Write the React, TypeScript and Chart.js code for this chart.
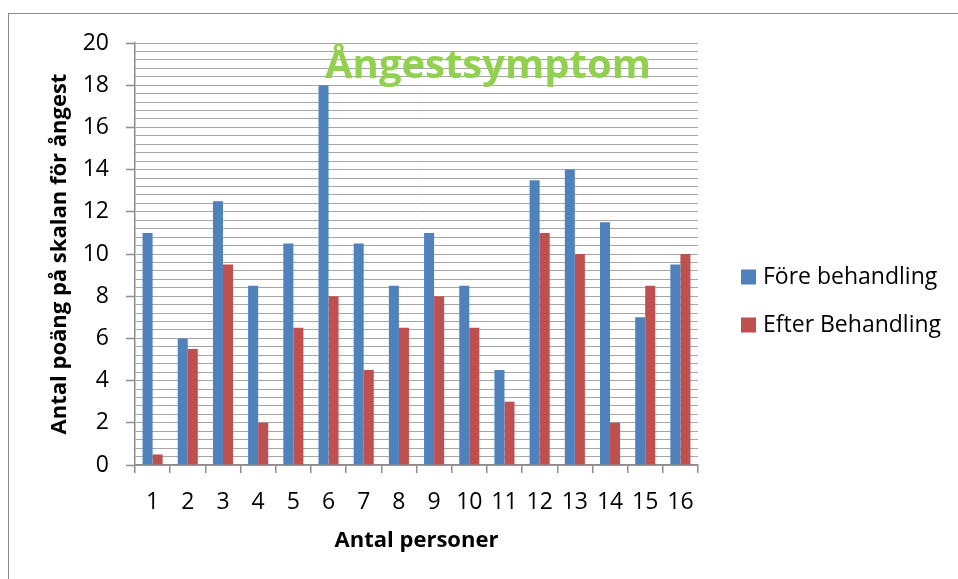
import React, { useEffect, useRef } from "react";
import { Chart, registerables } from "chart.js";

Chart.register(...registerables);

const categories = ["1", "2", "3", "4", "5", "6", "7", "8", "9", "10", "11", "12", "13", "14", "15", "16"];
const foreValues = [11, 6, 12.5, 8.5, 10.5, 18, 10.5, 8.5, 11, 8.5, 4.5, 13.5, 14, 11.5, 7, 9.5];
const efterValues = [0.5, 5.5, 9.5, 2, 6.5, 8, 4.5, 6.5, 8, 6.5, 3, 11, 10, 2, 8.5, 10];
const seriesNames = ["Före behandling", "Efter Behandling"];
const seriesColors = ["#4F81BD", "#C0504D"];
const chartTitle = "Ångestsymptom";
const xTitle = "Antal personer";
const yTitle = "Antal poäng på skalan för ångest";

const FONT = "'Open Sans', sans-serif";

const titlePlugin = {
  id: "insideTitle",
  afterDatasetsDraw(chart: any) {
    const { ctx, chartArea } = chart;
    ctx.save();
    ctx.font = `bold 40px ${FONT}`;
    ctx.fillStyle = "#92D050";
    ctx.textAlign = "center";
    ctx.textBaseline = "alphabetic";
    ctx.fillText(chartTitle, chartArea.left + 353, chartArea.top + 35);
    ctx.restore();
  },
};

const legendPlugin = {
  id: "sideLegend",
  afterDraw(chart: any) {
    const { ctx, chartArea } = chart;
    ctx.save();
    ctx.font = `23px ${FONT}`;
    ctx.textBaseline = "middle";
    ctx.textAlign = "left";
    chart.data.datasets.forEach((ds: any, i: number) => {
      const cy = 277 + i * 48;
      const x0 = chartArea.right + 43;
      ctx.fillStyle = ds.backgroundColor;
      ctx.fillRect(x0, cy - 7.5, 15, 15);
      ctx.fillStyle = "#000";
      ctx.fillText(ds.label, x0 + 22, cy);
    });
    ctx.restore();
  },
};

export default function App() {
  const ref = useRef<HTMLCanvasElement | null>(null);
  useEffect(() => {
    if (!ref.current) return;
    const chart = new Chart(ref.current, {
      type: "bar",
      data: {
        labels: categories,
        datasets: [
          { label: seriesNames[0], data: foreValues, backgroundColor: seriesColors[0] },
          { label: seriesNames[1], data: efterValues, backgroundColor: seriesColors[1] },
        ],
      },
      plugins: [titlePlugin, legendPlugin],
      options: {
        animation: false,
        responsive: true,
        maintainAspectRatio: false,
        datasets: {
          bar: { barPercentage: 1, categoryPercentage: 0.57 },
        },
        layout: { padding: { left: 47, top: 43, right: 260, bottom: 0 } },
        plugins: {
          legend: { display: false },
          tooltip: { enabled: false },
          title: { display: false },
        },
        scales: {
          x: {
            grid: {
              offset: true,
              drawOnChartArea: false,
              drawTicks: true,
              tickLength: 8,
              color: "#8C8C8C",
              lineWidth: 1.5,
            },
            border: { display: true, color: "#8C8C8C", width: 1.5 },
            ticks: { color: "#000", font: { family: FONT, size: 23 }, padding: 16, maxRotation: 0 },
            title: {
              display: true,
              text: xTitle,
              color: "#000",
              font: { family: FONT, size: 22, weight: "bold" },
              padding: { top: 0, bottom: 25 },
            },
            afterFit(scale: any) {
              scale.height = 114;
            },
          },
          y: {
            min: 0,
            max: 20,
            ticks: {
              stepSize: 0.4,
              autoSkip: false,
              color: "#000",
              font: { family: FONT, size: 23 },
              padding: 17,
              callback: (_v: any, i: number) => (i % 5 === 0 ? String((i / 5) * 2) : ""),
            },
            grid: {
              color: "#A6A6A6",
              lineWidth: 1,
              tickLength: 9,
              tickColor: (c: any) => (c.index % 5 === 0 ? "#8C8C8C" : "rgba(0,0,0,0)"),
              tickWidth: 1.5,
            },
            border: { display: true, color: "#8C8C8C", width: 1.5 },
            title: {
              display: true,
              text: yTitle,
              color: "#000",
              font: { family: FONT, size: 22, weight: "bold" },
              padding: { top: 0, bottom: 0 },
            },
            afterFit(scale: any) {
              scale.width = 88;
            },
          },
        },
      } as any,
    });
    return () => chart.destroy();
  }, []);

  return (
    <div style={{ position: "fixed", left: 0, top: 0, width: 958, height: 579, background: "#fff", overflow: "hidden" }}>
      <div
        style={{
          position: "absolute",
          left: 8,
          top: 13,
          width: 1000,
          height: 700,
          borderLeft: "1.5px solid #8A8A8A",
          borderTop: "1.5px solid #8A8A8A",
        }}
      />
      <div style={{ position: "absolute", left: 0, top: 0, width: 958, height: 579 }}>
        <canvas ref={ref} />
      </div>
    </div>
  );
}
